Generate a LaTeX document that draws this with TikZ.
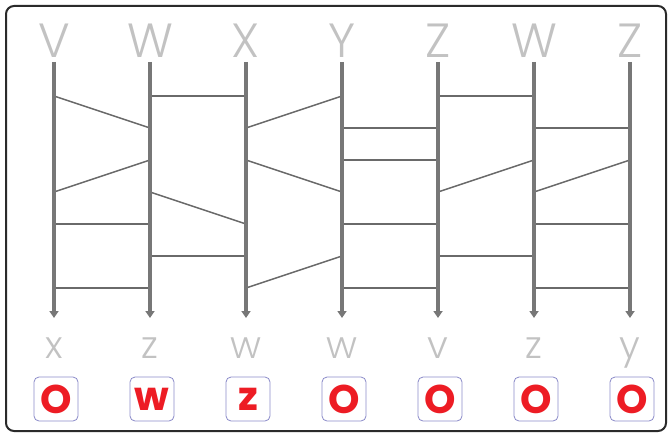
\documentclass[tikz,border=0pt]{standalone}
\usepackage{fontspec}
\setsansfont{Poppins}
\newfontfamily\thinfont{Poppins Light}
\usetikzlibrary{arrows.meta}
\definecolor{wiregray}{HTML}{777777}
\definecolor{runggray}{HTML}{6A6A6A}
\definecolor{lblgray}{HTML}{C2C2C2}
\definecolor{boxblue}{HTML}{8A8AC8}
\definecolor{outred}{HTML}{ED1C24}
\definecolor{framegray}{HTML}{2A2A2A}

\begin{document}
\begin{tikzpicture}[x=1pt,y=-1pt,
  wire/.style={draw=wiregray,line width=3.5pt,-{Triangle[length=7pt,width=9pt]}},
  rung/.style={draw=runggray,line width=1.5pt},
  toplbl/.style={font=\thinfont\fontsize{48}{48}\selectfont,text=lblgray,anchor=base,inner sep=0pt},
  botlbl/.style={font=\thinfont\fontsize{38}{38}\selectfont,text=lblgray,anchor=base,inner sep=0pt},
  outbox/.style={draw=boxblue,line width=0.8pt,rounded corners=5pt,minimum size=44pt,inner sep=0pt,text=outred,font=\sffamily\bfseries\fontsize{40}{40}\selectfont}]
\useasboundingbox (0,0) rectangle (668,433);
\draw[framegray,line width=2pt,rounded corners=8pt] (6,6) rectangle (666,431);
% wire names on top
\node[toplbl] (t1) at (54,58) {V};
\node[toplbl] (t2) at (150,58) {W};
\node[toplbl] (t3) at (246,58) {X};
\node[toplbl] (t4) at (342,58) {Y};
\node[toplbl] (t5) at (438,58) {Z};
\node[toplbl] (t6) at (534,58) {W};
\node[toplbl] (t7) at (630,58) {Z};
% wire ends
\coordinate (s1) at (54,62);  \coordinate (e1) at (54,318);
\coordinate (s2) at (150,62); \coordinate (e2) at (150,318);
\coordinate (s3) at (246,62); \coordinate (e3) at (246,318);
\coordinate (s4) at (342,62); \coordinate (e4) at (342,318);
\coordinate (s5) at (438,62); \coordinate (e5) at (438,318);
\coordinate (s6) at (534,62); \coordinate (e6) at (534,318);
\coordinate (s7) at (630,62); \coordinate (e7) at (630,318);
% rows
\coordinate (r1) at (0,96);  \coordinate (r2) at (0,128);
\coordinate (r3) at (0,160); \coordinate (r4) at (0,192);
\coordinate (r5) at (0,224); \coordinate (r6) at (0,256);
\coordinate (r7) at (0,288);
% rungs
\draw[rung] (s1|-r1) -- (s2|-r2); \draw[rung] (s1|-r4) -- (s2|-r3);
\draw[rung] (s1|-r5) -- (s2|-r5); \draw[rung] (s1|-r7) -- (s2|-r7);
\draw[rung] (s2|-r1) -- (s3|-r1); \draw[rung] (s2|-r4) -- (s3|-r5);
\draw[rung] (s2|-r6) -- (s3|-r6);
\draw[rung] (s3|-r2) -- (s4|-r1); \draw[rung] (s3|-r3) -- (s4|-r4);
\draw[rung] (s3|-r7) -- (s4|-r6);
\draw[rung] (s4|-r2) -- (s5|-r2); \draw[rung] (s4|-r3) -- (s5|-r3);
\draw[rung] (s4|-r5) -- (s5|-r5); \draw[rung] (s4|-r7) -- (s5|-r7);
\draw[rung] (s5|-r1) -- (s6|-r1); \draw[rung] (s5|-r4) -- (s6|-r3);
\draw[rung] (s5|-r6) -- (s6|-r6);
\draw[rung] (s6|-r2) -- (s7|-r2); \draw[rung] (s6|-r4) -- (s7|-r3);
\draw[rung] (s6|-r5) -- (s7|-r5); \draw[rung] (s6|-r7) -- (s7|-r7);
% wires
\draw[wire] (s1) -- (e1); \draw[wire] (s2) -- (e2);
\draw[wire] (s3) -- (e3); \draw[wire] (s4) -- (e4);
\draw[wire] (s5) -- (e5); \draw[wire] (s6) -- (e6);
\draw[wire] (s7) -- (e7);
% outputs
\node[botlbl] (b1) at (54,358) {x};
\node[botlbl] (b2) at (150,358) {z};
\node[botlbl] (b3) at (246,358) {w};
\node[botlbl] (b4) at (342,358) {w};
\node[botlbl] (b5) at (438,358) {v};
\node[botlbl] (b6) at (534,358) {z};
\node[botlbl] (b7) at (630,358) {y};
\node[outbox] (o1) at (56,399) {O};
\node[outbox] (o2) at (152,399) {w};
\node[outbox] (o3) at (248,399) {z};
\node[outbox] (o4) at (344,399) {O};
\node[outbox] (o5) at (440,399) {O};
\node[outbox] (o6) at (536,399) {O};
\node[outbox] (o7) at (632,399) {O};
\end{tikzpicture}
\end{document}
